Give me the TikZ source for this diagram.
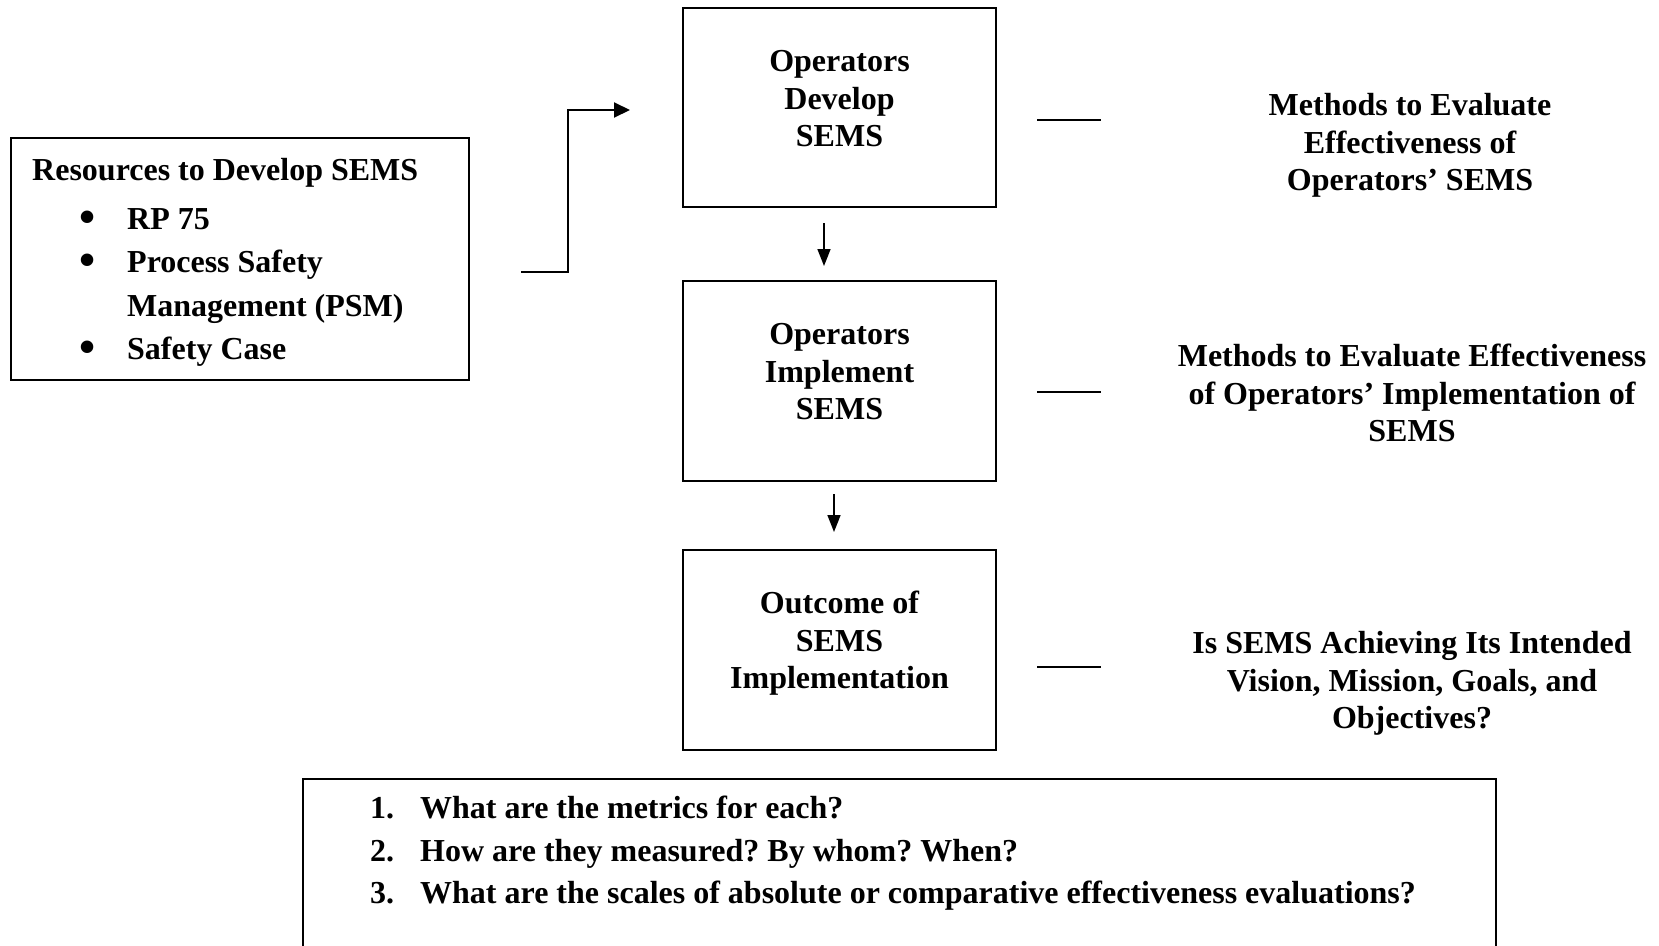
\documentclass[tikz,border=0pt]{standalone}
\usepackage{fontspec}
\setmainfont{Liberation Serif}
\usetikzlibrary{arrows.meta,calc}
\frenchspacing
\newcommand{\bigbul}{\raisebox{-0.12em}{\fontsize{46}{46}\selectfont\textbullet}}
\begin{document}
\begin{tikzpicture}[x=1pt,y=-1pt,
  box/.style={draw,line width=2pt,inner sep=0pt},
  txt/.style={font=\bfseries\fontsize{32}{37.5}\selectfont,inner sep=0pt,align=center},
  ltxt/.style={font=\bfseries\fontsize{32}{37.5}\selectfont,inner sep=0pt,anchor=base west},
  conn/.style={line width=2pt},
  arr/.style={line width=2pt,-{Triangle[length=16pt,width=15pt]}},
  darr/.style={line width=1.6pt,-{Triangle[length=17pt,width=13pt]}},
]
\useasboundingbox (0,0) rectangle (1659,945);
\clip (0,0) rectangle (1659,945);

% boxes
\node[box,minimum width=458pt,minimum height=242pt] (res) at (240,258.5) {};
\node[box,minimum width=313pt,minimum height=199pt] (b1) at (839.5,107.5) {};
\node[box,minimum width=313pt,minimum height=200pt] (b2) at (839.5,381) {};
\node[box,minimum width=313pt,minimum height=200pt] (b3) at (839.5,650) {};
\node[box,minimum width=1193pt,minimum height=181pt] (qs) at (899.5,869.5) {};

% left box text
\node[ltxt] (rt0) at (32,180) {Resources to Develop SEMS};
\node[ltxt] (bu1) at (79,229) {\bigbul};
\node[ltxt] (it1) at (127,229) {RP 75};
\node[ltxt] (bu2) at (79,272) {\bigbul};
\node[ltxt] (it2) at (127,272) {Process Safety};
\node[ltxt] (it2b) at (127,316) {Management (PSM)};
\node[ltxt] (bu3) at (79,359) {\bigbul};
\node[ltxt] (it3) at (127,359) {Safety Case};

% box texts
\node[txt] (t1) at (839.5,99) {Operators\\Develop\\SEMS};
\node[txt] (t2) at (839.5,372) {Operators\\Implement\\SEMS};
\node[txt] (t3) at (839.5,643.5) {Outcome of\\SEMS\\Implementation};

% right texts
\node[txt] (r1) at (1410,145.5) {Methods to Evaluate\\Effectiveness of\\Operators’ SEMS};
\node[txt] (r2) at (1412,393) {Methods to Evaluate Effectiveness\\of Operators’ Implementation of\\SEMS};
\node[txt] (r3) at (1412,683.5) {Is SEMS Achieving Its Intended\\Vision, Mission, Goals, and\\Objectives?};

% question list
\node[ltxt] (n1) at (370,818) {1.};
\node[ltxt] (q1) at (420,818) {What are the metrics for each?};
\node[ltxt] (n2) at (370,861) {2.};
\node[ltxt] (q2) at (420,861) {How are they measured? By whom? When?};
\node[ltxt] (n3) at (370,903) {3.};
\node[ltxt] (q3) at (420,903) {What are the scales of absolute or comparative effectiveness evaluations?};

% connectors
\coordinate (ra) at ($(res.east)+(51,13.5)$);
\coordinate (rb) at ($(b1.west)+(-52,2.5)$);
\draw[arr] (ra) -- ++(47,0) |- (rb);

\coordinate (a1s) at ($(b1.south)+(-15.5,15)$);
\coordinate (a1e) at ($(b2.north)+(-15.5,-14)$);
\draw[darr] (a1s) -- (a1e);
\coordinate (a2s) at ($(b2.south)+(-5.5,12)$);
\coordinate (a2e) at ($(b3.north)+(-5.5,-17)$);
\draw[darr] (a2s) -- (a2e);

\coordinate (d1a) at ($(b1.east)+(40,12.5)$);
\coordinate (d1b) at ($(b1.east)+(104,12.5)$);
\draw[conn] (d1a) -- (d1b);
\coordinate (d2a) at ($(b2.east)+(40,11)$);
\coordinate (d2b) at ($(b2.east)+(104,11)$);
\draw[conn] (d2a) -- (d2b);
\coordinate (d3a) at ($(b3.east)+(40,17)$);
\coordinate (d3b) at ($(b3.east)+(104,17)$);
\draw[conn] (d3a) -- (d3b);
\end{tikzpicture}
\end{document}
